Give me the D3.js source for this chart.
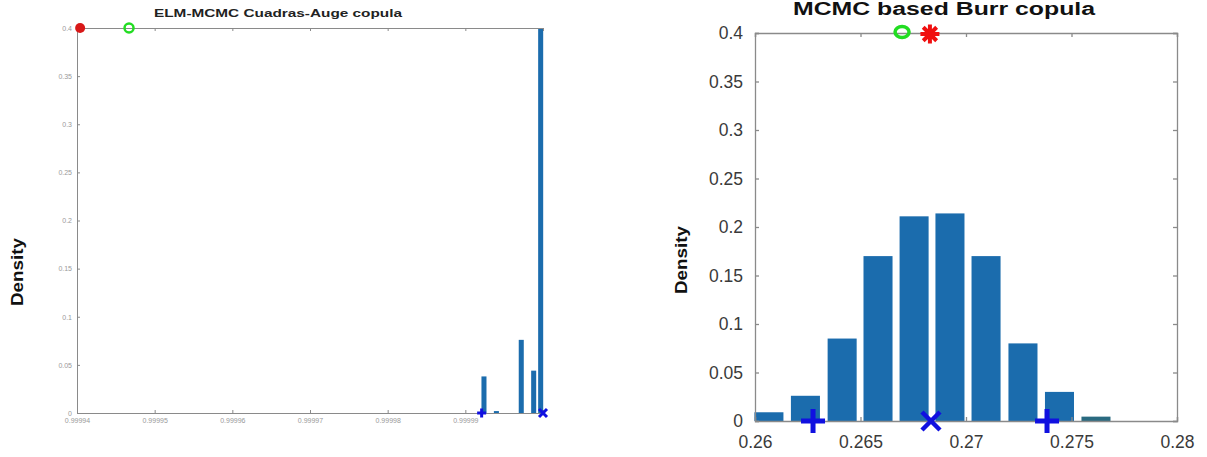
<!DOCTYPE html>
<html>
<head>
<meta charset="utf-8">
<script src="https://cdn.jsdelivr.net/npm/d3@7"></script>
<style>
  body { margin: 0; background: #fff; }
  svg { display: block; font-family: "Liberation Sans", Arial, sans-serif; }
</style>
</head>
<body>
<div id="chart"></div>
<script>
// Left panel: ELM-MCMC Cuadras-Auge copula
const leftTitle = "ELM-MCMC Cuadras-Auge copula";
const leftXTicks = [0.99994, 0.99995, 0.99996, 0.99997, 0.99998, 0.99999, 1];
const leftXLabels = ["0.99994", "0.99995", "0.99996", "0.99997", "0.99998", "0.99999", ""];
const leftYTicks = [0, 0.05, 0.1, 0.15, 0.2, 0.25, 0.3, 0.35, 0.4];
const leftBinCenters = [0.9999924, 0.9999940, 0.9999972, 0.9999988, 0.9999997];
const leftDensity = [0.038, 0.002, 0.076, 0.044, 0.4];
const leftBinWidth = 0.00000081;
// markers: [x, y]
const leftRedDot = [0.9999404, 0.4];
const leftGreenRing = [0.9999467, 0.4];
const leftBluePlus = [[0.9999921, 0]];
const leftBlueCross = [[1.0, 0]];

// Right panel: MCMC based Burr copula
const rightTitle = "MCMC based Burr copula";
const rightXTicks = [0.26, 0.265, 0.27, 0.275, 0.28];
const rightYTicks = [0, 0.05, 0.1, 0.15, 0.2, 0.25, 0.3, 0.35, 0.4];
const rightBinCenters = [0.26066, 0.26239, 0.26413, 0.26583, 0.26754, 0.26924, 0.27095, 0.27270, 0.27443, 0.27616];
const rightDensity = [0.009, 0.026, 0.085, 0.170, 0.211, 0.214, 0.170, 0.080, 0.030, 0.0045];
const rightBinWidth = 0.00172;
const rightGreenRing = [0.26697, 0.4];
const rightRedStar = [0.26829, 0.4];
const rightBluePlus = [[0.26275, 0], [0.27384, 0]];
const rightBlueCross = [[0.26834, 0]];

const W = 1207, H = 457;
const svg = d3.select("#chart").append("svg").attr("width", W).attr("height", H);

const axisColor = "#8a8a8a";
const barColor = "#1b6cad";

function plus(g, x, y, size, sw) {
  g.append("path")
    .attr("d", `M${x - size},${y}H${x + size}M${x},${y - size}V${y + size}`)
    .attr("stroke", "#1010e0").attr("stroke-width", sw).attr("fill", "none");
}
function cross(g, x, y, size, sw) {
  g.append("path")
    .attr("d", `M${x - size},${y - size}L${x + size},${y + size}M${x - size},${y + size}L${x + size},${y - size}`)
    .attr("stroke", "#1010e0").attr("stroke-width", sw).attr("fill", "none");
}
function star(g, x, y, size, sw) {
  let d = "";
  for (let k = 0; k < 4; k++) {
    const a = k * Math.PI / 4;
    d += `M${x - size * Math.cos(a)},${y - size * Math.sin(a)}L${x + size * Math.cos(a)},${y + size * Math.sin(a)}`;
  }
  g.append("path").attr("d", d).attr("stroke", "#f01010").attr("stroke-width", sw).attr("fill", "none");
}

// ---------- Left panel ----------
{
  const x = d3.scaleLinear().domain([0.99994, 1.0]).range([77, 543]);
  const y = d3.scaleLinear().domain([0, 0.4]).range([413, 28]);
  const g = svg.append("g");

  // bars
  g.selectAll("rect.bar").data(leftBinCenters).enter().append("rect")
    .attr("x", (d) => x(d - leftBinWidth * 0.4))
    .attr("width", x(0.99994 + leftBinWidth * 0.8) - x(0.99994))
    .attr("y", (d, i) => y(leftDensity[i]))
    .attr("height", (d, i) => y(0) - y(leftDensity[i]))
    .attr("fill", barColor);

  // axes
  const ax = g.append("g").attr("transform", "translate(0,413)")
    .call(d3.axisBottom(x).tickValues(leftXTicks).tickFormat((d, i) => leftXLabels[i]).tickSize(-3).tickPadding(5));
  const ay = g.append("g").attr("transform", "translate(77,0)")
    .call(d3.axisLeft(y).tickValues(leftYTicks).tickFormat((d) => String(+d.toFixed(2))).tickSize(-3).tickPadding(5));
  const at = g.append("g").attr("transform", "translate(0,28)")
    .call(d3.axisTop(x).tickValues(leftXTicks).tickFormat("").tickSize(-3));
  [ax, ay, at].forEach((a) => {
    a.selectAll("path, line").attr("stroke", axisColor);
    a.selectAll("text").attr("fill", "#999").attr("font-size", 7).attr("font-family", "inherit");
  });

  // markers
  g.append("circle").attr("cx", x(leftRedDot[0])).attr("cy", y(leftRedDot[1])).attr("r", 5).attr("fill", "#d81818");
  g.append("circle").attr("cx", x(leftGreenRing[0])).attr("cy", y(leftGreenRing[1])).attr("r", 4.5)
    .attr("fill", "none").attr("stroke", "#22dd22").attr("stroke-width", 2.5);
  leftBluePlus.forEach((p) => plus(g, x(p[0]), y(p[1]), 4.5, 3));
  leftBlueCross.forEach((p) => cross(g, x(p[0]), y(p[1]), 4, 3));

  g.append("text").attr("x", 278).attr("y", 17).attr("text-anchor", "middle")
    .attr("font-size", 11).attr("font-weight", "bold").attr("fill", "#222")
    .attr("textLength", 248).attr("lengthAdjust", "spacingAndGlyphs").text(leftTitle);
  g.append("text").attr("transform", "translate(23,272) rotate(-90)").attr("text-anchor", "middle")
    .attr("font-size", 16).attr("font-weight", "bold").attr("fill", "#111")
    .attr("textLength", 68).attr("lengthAdjust", "spacingAndGlyphs").text("Density");
}

// ---------- Right panel ----------
{
  const x = d3.scaleLinear().domain([0.26, 0.28]).range([755, 1177]);
  const y = d3.scaleLinear().domain([0, 0.4]).range([421, 33]);
  const g = svg.append("g");

  g.selectAll("rect.bar").data(rightBinCenters).enter().append("rect")
    .attr("x", (d) => x(d - rightBinWidth * 0.4))
    .attr("width", x(0.26 + rightBinWidth * 0.8) - x(0.26))
    .attr("y", (d, i) => y(rightDensity[i]))
    .attr("height", (d, i) => y(0) - y(rightDensity[i]))
    .attr("fill", (d, i) => i === rightDensity.length - 1 ? "#2a6a80" : barColor);

  const fmt = (d) => String(+d.toFixed(3));
  const ax = g.append("g").attr("transform", "translate(0,421)")
    .call(d3.axisBottom(x).tickValues(rightXTicks).tickFormat(fmt).tickSize(-4).tickPadding(15));
  const ay = g.append("g").attr("transform", "translate(755,0)")
    .call(d3.axisLeft(y).tickValues(rightYTicks).tickFormat(fmt).tickSize(-4).tickPadding(12));
  const at = g.append("g").attr("transform", "translate(0,33)")
    .call(d3.axisTop(x).tickValues(rightXTicks).tickFormat("").tickSize(-4));
  const ar = g.append("g").attr("transform", "translate(1177,0)")
    .call(d3.axisRight(y).tickValues(rightYTicks).tickFormat("").tickSize(-4));
  [ax, ay, at, ar].forEach((a) => {
    a.selectAll("path, line").attr("stroke", axisColor).attr("stroke-width", 1.3);
    a.selectAll("text").attr("fill", "#3a3a3a").attr("font-size", 17.5).attr("font-family", "inherit");
  });

  g.append("ellipse").attr("cx", x(rightGreenRing[0])).attr("cy", y(rightGreenRing[1]) - 1).attr("rx", 7).attr("ry", 5.5)
    .attr("fill", "none").attr("stroke", "#22dd22").attr("stroke-width", 3.5);
  star(g, x(rightRedStar[0]), y(rightRedStar[1]) + 1, 9.5, 4);
  rightBluePlus.forEach((p) => plus(g, x(p[0]), y(p[1]), 12, 5));
  rightBlueCross.forEach((p) => cross(g, x(p[0]), y(p[1]), 9, 4.5));

  g.append("text").attr("x", 944).attr("y", 15).attr("text-anchor", "middle")
    .attr("font-size", 18).attr("font-weight", "bold").attr("fill", "#111")
    .attr("textLength", 302).attr("lengthAdjust", "spacingAndGlyphs").text(rightTitle);
  g.append("text").attr("transform", "translate(687,260) rotate(-90)").attr("text-anchor", "middle")
    .attr("font-size", 16).attr("font-weight", "bold").attr("fill", "#111")
    .attr("textLength", 68).attr("lengthAdjust", "spacingAndGlyphs").text("Density");
}
</script>
</body>
</html>
